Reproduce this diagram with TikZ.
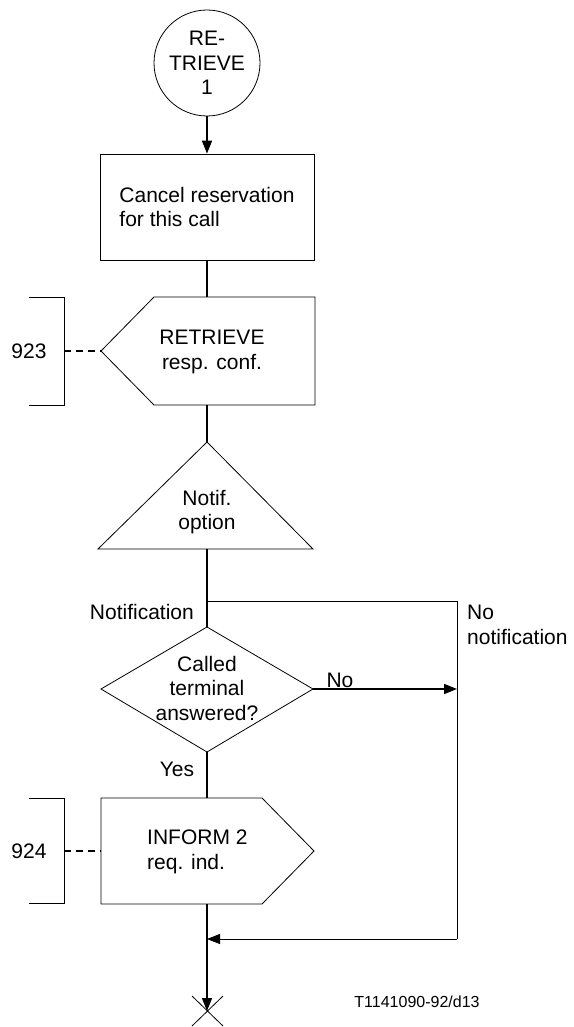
\documentclass[tikz,border=0pt]{standalone}
\usepackage{fontspec}
\setmainfont{Liberation Sans}
\usetikzlibrary{arrows.meta}
\begin{document}
\begin{tikzpicture}[x=1pt,y=-1pt,
  outline/.style={line width=0.8pt},
  flow/.style={line width=1.7pt},
  thinline/.style={line width=0.8pt},
  tip/.style={-{Triangle[length=13pt,width=10pt]}},
  txt/.style={font=\fontsize{21}{24.5}\selectfont, align=center, inner sep=0pt},
  small/.style={font=\fontsize{16}{19}\selectfont, inner sep=0pt},
  dashline/.style={line width=1.2pt, dash pattern=on 7pt off 5pt}
]
\useasboundingbox (0,0) rectangle (573,1027);

% start circle
\node[draw, circle, outline, minimum size=106pt, txt] (start) at (207,63) {RE-\\TRIEVE\\1};

% task box
\node[draw, outline, minimum width=214pt, minimum height=106pt, txt, align=left] (cancel) at (207,207) {Cancel reservation\\for this call};

% input signal
\coordinate (intop) at (207,297);
\coordinate (inbot) at (207,405);
\coordinate (inleft) at (101,351);
\draw[outline] (inleft) -- (154,297) -- (315,297) -- (315,405) -- (154,405) -- cycle;
\node[txt] (intxt) at (212,352) {RETRIEVE\\resp. conf.};

% bracket 923
\node[txt] (n923) at (29,351) {923};
\coordinate (b923) at (64,351);
\draw[thinline] (29,297) -- (64,297) -- (64,405) -- (29,405);
\draw[dashline] (b923) -- (inleft);

% decision triangle
\coordinate (triapex) at (207,442);
\coordinate (tribase) at (207,549);
\draw[outline] (triapex) -- (313,549) -- (98,549) -- cycle;
\node[txt] (tritxt) at (207,512) {Notif.\\option};

% diamond
\coordinate (diatop) at (207,627);
\coordinate (diaright) at (313,689);
\coordinate (diabot) at (207,752);
\coordinate (dialeft) at (101,689);
\draw[outline] (diatop) -- (diaright) -- (diabot) -- (dialeft) -- cycle;
\node[txt] (diatxt) at (207,688) {Called\\terminal\\answered?};

% output signal
\coordinate (outtop) at (207,798);
\coordinate (outbot) at (207,904);
\coordinate (outleft) at (101,851);
\draw[outline] (101,798) -- (262,798) -- (314,851) -- (262,904) -- (101,904) -- cycle;
\node[txt, align=left, anchor=west] (outtxt) at (147,852) {INFORM 2\\req. ind.};

% bracket 924
\node[txt] (n924) at (29,851) {924};
\coordinate (b924) at (64,851);
\draw[thinline] (29,798) -- (64,798) -- (64,903) -- (29,903);
\draw[dashline] (b924) -- (outleft);

% branch coordinates
\coordinate (junction) at (207,601);
\coordinate (jright) at (457,601);
\coordinate (noend) at (457,689);
\coordinate (mright) at (457,939);
\coordinate (merge) at (207,939);
\coordinate (endx) at (207,1011);

% connectors
\draw[flow, tip] (start) -- (cancel);
\draw[flow] (cancel) -- (intop);
\draw[flow] (inbot) -- (triapex);
\draw[flow] (tribase) -- (diatop);
\draw[thinline] (junction) -- (jright) -- (mright);
\draw[thinline, tip] (mright) -- (merge);
\draw[flow, tip] (diaright) -- (noend);
\draw[flow] (diabot) -- (outtop);
\draw[flow, tip] (outbot) -- (endx);
\draw[thinline] (192,996) -- (223,1026) (223,996) -- (192,1026);

% labels
\node[txt, anchor=east] (lnotif) at (194,612) {Notification};
\node[txt, align=left, anchor=west] (lnonotif) at (467,625) {No\\notification};
\node[txt] (lno) at (340,680) {No};
\node[txt] (lyes) at (177,769) {Yes};
\node[small] (lref) at (417,1002) {T1141090-92/d13};
\end{tikzpicture}
\end{document}
